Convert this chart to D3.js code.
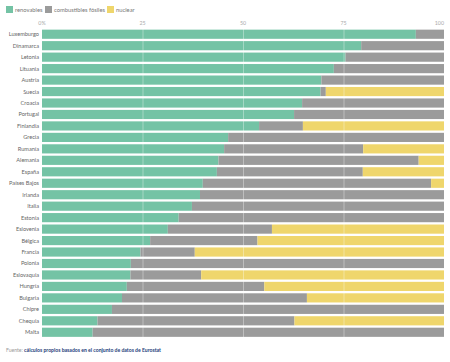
<!DOCTYPE html>
<html>
<head>
<meta charset="utf-8">
<script src="https://cdn.jsdelivr.net/npm/d3@7"></script>
<style>
  body { margin: 0; background: #fff; }
  svg { display: block; font-family: Lato, "Open Sans", sans-serif; }
</style>
</head>
<body>
<div id="chart"></div>
<script>
const countries = ["Luxemburgo", "Dinamarca", "Letonia", "Lituania", "Austria", "Suecia", "Croacia", "Portugal",
  "Finlandia", "Grecia", "Rumanía", "Alemania", "España", "Países Bajos", "Irlanda", "Italia", "Estonia",
  "Eslovenia", "Bélgica", "Francia", "Polonia", "Eslovaquia", "Hungría", "Bulgaria", "Chipre", "Chequia", "Malta"];
const renovables = [93, 79.4, 75.5, 72.6, 69.5, 69.3, 64.7, 62.7, 54, 46.3, 45.3, 43.9, 43.5, 40, 39.3, 37.3, 34,
  31.3, 26.9, 24.5, 22.1, 22, 21.1, 19.9, 17.4, 13.8, 12.6];
const fosiles = [7, 20.6, 24.5, 27.4, 30.5, 1.3, 35.3, 37.3, 10.9, 53.7, 34.6, 49.8, 36.3, 56.8, 60.7, 62.7, 66,
  25.9, 26.7, 13.5, 77.9, 17.6, 34.2, 46, 82.6, 49, 87.4];
const nuclear = [0, 0, 0, 0, 0, 29.4, 0, 0, 35.1, 0, 20.1, 6.3, 20.2, 3.2, 0, 0, 0,
  42.8, 46.4, 62, 0, 60.4, 44.7, 34.1, 0, 37.2, 0];
const xTicks = [0, 25, 50, 75, 100];
const seriesKeys = ["renovables", "combustibles fósiles", "nuclear"];
const colors = ["#74c3a5", "#9b9b9b", "#efd66c"];

const width = 450, height = 362;
const margin = {left: 42, right: 6, top: 28.5, bottom: 24};

const rows = countries.map((c, i) => ({
  pais: c,
  "renovables": renovables[i],
  "combustibles fósiles": fosiles[i],
  "nuclear": nuclear[i]
}));

const svg = d3.select("#chart").append("svg")
  .attr("width", width)
  .attr("height", height);

const x = d3.scaleLinear().domain([0, 100]).range([margin.left, width - margin.right]);
const y = d3.scaleBand().domain(countries).range([margin.top, height - margin.bottom]).paddingInner(0.2).paddingOuter(0.1);

const stacked = d3.stack().keys(seriesKeys)(rows);

svg.append("g").selectAll("g")
  .data(stacked)
  .join("g")
    .attr("fill", (d, i) => colors[i])
  .selectAll("rect")
  .data(d => d)
  .join("rect")
    .attr("x", d => x(d[0]))
    .attr("width", d => Math.max(0, x(d[1]) - x(d[0])))
    .attr("y", d => y(d.data.pais))
    .attr("height", y.bandwidth());

// grid lines over the bars
svg.append("g").selectAll("line")
  .data(xTicks.filter(t => t > 0 && t < 100))
  .join("line")
    .attr("x1", d => x(d) + 0.5)
    .attr("x2", d => x(d) + 0.5)
    .attr("y1", margin.top - 3)
    .attr("y2", height - margin.bottom)
    .attr("stroke", "#fff")
    .attr("stroke-opacity", 0.35);

// x tick labels
svg.append("g").selectAll("text")
  .data(xTicks)
  .join("text")
    .attr("x", d => x(d))
    .attr("y", 25)
    .attr("text-anchor", d => d == 100 ? "end" : "middle")
    .attr("font-size", 5.3)
    .attr("fill", "#aaa")
    .text(d => d == 0 ? "0%" : d);

// country labels
svg.append("g").selectAll("text")
  .data(countries)
  .join("text")
    .attr("x", margin.left - 3)
    .attr("y", d => y(d) + y.bandwidth() / 2)
    .attr("dy", "0.35em")
    .attr("text-anchor", "end")
    .attr("font-size", 5.6)
    .attr("fill", "#666")
    .text(d => d);

// legend
const legendX = [6, 45, 107];
const legend = svg.append("g").selectAll("g")
  .data(seriesKeys)
  .join("g")
    .attr("transform", (d, i) => `translate(${legendX[i]},6)`);
legend.append("rect")
  .attr("width", 7)
  .attr("height", 7)
  .attr("fill", (d, i) => colors[i]);
legend.append("text")
  .attr("x", 9)
  .attr("y", 3.5)
  .attr("dy", "0.35em")
  .attr("font-size", 5.8)
  .attr("fill", "#777")
  .text(d => d);

// source
const src = svg.append("text")
  .attr("x", 6)
  .attr("y", 352)
  .attr("font-size", 5.1)
  .attr("fill", "#999");
src.append("tspan").text("Fuente: ");
src.append("tspan").attr("font-weight", "bold").attr("fill", "#1d3d7a")
  .text("cálculos propios basados en el conjunto de datos de Eurostat");
</script>
</body>
</html>
